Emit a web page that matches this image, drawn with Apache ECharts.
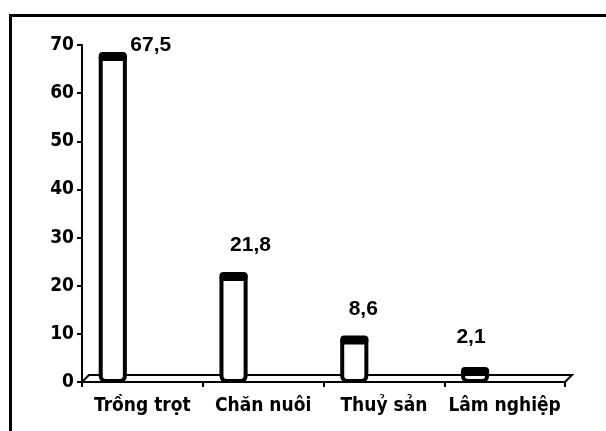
<!DOCTYPE html>
<html>
<head>
<meta charset="utf-8">
<script src="https://cdn.jsdelivr.net/npm/echarts@6/dist/echarts.min.js"></script>
<style>
html,body{margin:0;padding:0;background:#fff;}
#chart{width:606px;height:431px;}
</style>
</head>
<body>
<div id="chart"></div>
<script>
const categories = ['Trồng trọt', 'Chăn nuôi', 'Thuỷ sản', 'Lâm nghiệp'];
const values = [67.5, 21.8, 8.6, 2.1];
const valueLabels = ['67,5', '21,8', '8,6', '2,1'];
const yTicks = [0, 10, 20, 30, 40, 50, 60, 70];

// label placement offsets (style only)
const labelDx = [38, 17, 9, -4];
const labelDy = [-12, -32, -31, -35];

const axisFamily = '"DejaVu Sans Condensed", "Liberation Sans Narrow", "Liberation Sans", sans-serif';
const valueFont = 'bold 21px "Liberation Sans", Arial, sans-serif';

const chart = echarts.init(document.getElementById('chart'), null, {renderer: 'canvas'});

chart.setOption({
  animation: false,
  backgroundColor: '#fff',
  graphic: [{
    type: 'rect', left: 8, top: 13, silent: true, z: 100,
    shape: {width: 640, height: 460},
    style: {fill: 'none', stroke: '#000', lineWidth: 3}
  }],
  grid: {left: 82, top: 45, width: 483, height: 337},
  xAxis: {
    type: 'category',
    data: categories,
    boundaryGap: true,
    axisLine: {show: true, lineStyle: {color: '#000', width: 2}},
    axisTick: {show: true, alignWithLabel: false, length: 5, lineStyle: {color: '#000', width: 2}},
    axisLabel: {
      color: '#000', fontWeight: 'bold', fontSize: 19,
      fontFamily: axisFamily,
      margin: 15, interval: 0
    },
    splitLine: {show: false}
  },
  yAxis: {
    type: 'value',
    min: 0, max: 70, interval: 10,
    axisLine: {show: true, lineStyle: {color: '#000', width: 2}},
    axisTick: {show: true, length: 5, lineStyle: {color: '#000', width: 2}},
    axisLabel: {
      color: '#000', fontWeight: 'bold', fontSize: 19,
      fontFamily: axisFamily,
      margin: 8,
      formatter: function (v) { return yTicks.indexOf(v) >= 0 ? String(v) : ''; }
    },
    splitLine: {show: false}
  },
  series: [
    {
      type: 'custom',
      name: 'floor',
      z: 1,
      silent: true,
      data: [[0, 0]],
      renderItem: function (params, api) {
        const cs = params.coordSys;
        const d = 7;
        const yb = cs.y + cs.height;
        return {
          type: 'polygon',
          shape: {points: [[cs.x, yb], [cs.x + d, yb - d], [cs.x + cs.width + d, yb - d], [cs.x + cs.width, yb]]},
          style: {fill: '#fff', stroke: '#000', lineWidth: 2}
        };
      }
    },
    {
      type: 'custom',
      name: 'Cơ cấu',
      z: 5,
      data: values.map(function (v, i) { return [i, v]; }),
      encode: {x: 0, y: 1},
      renderItem: function (params, api) {
        const idx = api.value(0);
        const v = api.value(1);
        const top = api.coord([idx, v]);
        const base = api.coord([idx, 0]);
        const band = api.size([1, 0])[0];
        const cx = top[0] - band * 0.245;
        const w = band * 0.2;
        const i = params.dataIndex;
        return {
          type: 'group',
          children: [
            {
              type: 'rect',
              shape: {x: cx - w / 2, y: top[1], width: w, height: base[1] - top[1] - 1, r: [0, 0, 5, 5]},
              style: {fill: '#fff', stroke: '#000', lineWidth: 4}
            },
            {
              type: 'rect',
              shape: {x: cx - w / 2 - 2, y: top[1] - 5, width: w + 4, height: 9, r: 4},
              style: {fill: '#000'}
            },
            {
              type: 'text',
              style: {
                text: valueLabels[i],
                x: cx + labelDx[i], y: top[1] + labelDy[i],
                align: 'center', verticalAlign: 'middle',
                font: valueFont, fill: '#000'
              }
            }
          ]
        };
      }
    }
  ]
});
</script>
</body>
</html>
